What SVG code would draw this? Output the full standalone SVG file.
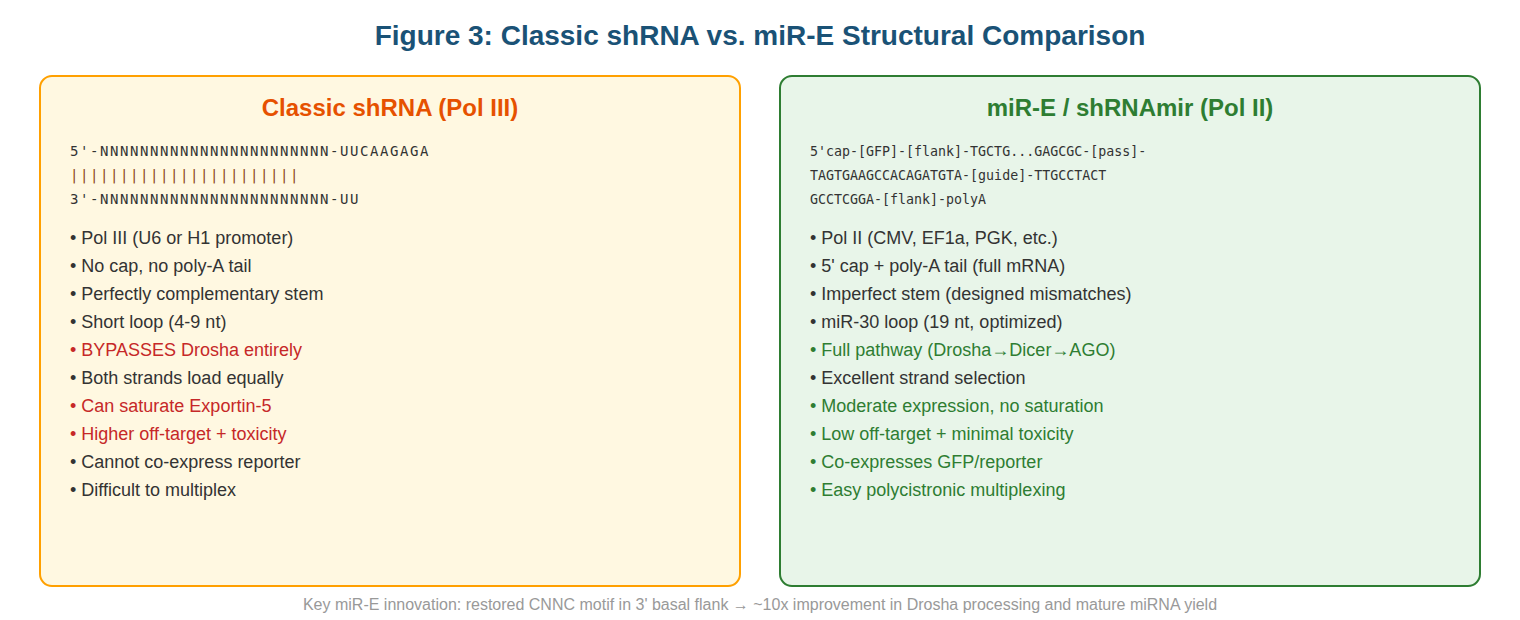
<svg xmlns="http://www.w3.org/2000/svg" width="1520" height="620" viewBox="0 0 1520 620">
<style>
.title{font-family:"Liberation Sans",Arial,sans-serif;font-size:28px;font-weight:bold;fill:#1a5276;text-anchor:middle}
.ptitle{font-family:"Liberation Sans",Arial,sans-serif;font-size:24px;font-weight:bold;text-anchor:middle}
.seqL{font-family:"DejaVu Sans Mono",monospace;font-size:14px;letter-spacing:1.57px;fill:#333}
.seqR{font-family:"DejaVu Sans Mono",monospace;font-size:13.3px;fill:#333}
.bars{fill:#8b4513}
.b{font-family:"Liberation Sans",Arial,sans-serif;font-size:18px;fill:#333}
.bad{fill:#c62828}
.good{fill:#2e7d32}
.foot{font-family:"Liberation Sans",Arial,sans-serif;font-size:16px;fill:#999;text-anchor:middle}
</style>
<rect width="1520" height="620" fill="#ffffff"/>
<text class="title" x="760" y="45">Figure 3: Classic shRNA vs. miR-E Structural Comparison</text>
<g id="classic">
<rect x="40" y="76" width="700" height="510" rx="12" fill="#fff8e1" stroke="#ffa000" stroke-width="2"/>
<text class="ptitle" x="390" y="116" fill="#e65100">Classic shRNA (Pol III)</text>
<text class="seqL" x="70" y="156">5'-NNNNNNNNNNNNNNNNNNNNNNN-UUCAAGAGA</text>
<text class="seqL bars" x="70" y="180">|||||||||||||||||||||||</text>
<text class="seqL" x="70" y="204">3'-NNNNNNNNNNNNNNNNNNNNNNN-UU</text>
<text class="b" x="70" y="244">• Pol III (U6 or H1 promoter)</text>
<text class="b" x="70" y="272">• No cap, no poly-A tail</text>
<text class="b" x="70" y="300">• Perfectly complementary stem</text>
<text class="b" x="70" y="328">• Short loop (4-9 nt)</text>
<text class="b bad" x="70" y="356">• BYPASSES Drosha entirely</text>
<text class="b" x="70" y="384">• Both strands load equally</text>
<text class="b bad" x="70" y="412">• Can saturate Exportin-5</text>
<text class="b bad" x="70" y="440">• Higher off-target + toxicity</text>
<text class="b" x="70" y="468">• Cannot co-express reporter</text>
<text class="b" x="70" y="496">• Difficult to multiplex</text>
</g>
<g id="mire">
<rect x="780" y="76" width="700" height="510" rx="12" fill="#e8f5e9" stroke="#2e7d32" stroke-width="2"/>
<text class="ptitle" x="1130" y="116" fill="#2e7d32">miR-E / shRNAmir (Pol II)</text>
<text class="seqR" x="810" y="156">5'cap-[GFP]-[flank]-TGCTG...GAGCGC-[pass]-</text>
<text class="seqR" x="810" y="180">TAGTGAAGCCACAGATGTA-[guide]-TTGCCTACT</text>
<text class="seqR" x="810" y="204">GCCTCGGA-[flank]-polyA</text>
<text class="b" x="810" y="244">• Pol II (CMV, EF1a, PGK, etc.)</text>
<text class="b" x="810" y="272">• 5' cap + poly-A tail (full mRNA)</text>
<text class="b" x="810" y="300">• Imperfect stem (designed mismatches)</text>
<text class="b" x="810" y="328">• miR-30 loop (19 nt, optimized)</text>
<text class="b good" x="810" y="356">• Full pathway (Drosha→Dicer→AGO)</text>
<text class="b" x="810" y="384">• Excellent strand selection</text>
<text class="b good" x="810" y="412">• Moderate expression, no saturation</text>
<text class="b good" x="810" y="440">• Low off-target + minimal toxicity</text>
<text class="b good" x="810" y="468">• Co-expresses GFP/reporter</text>
<text class="b good" x="810" y="496">• Easy polycistronic multiplexing</text>
</g>
<g id="connectors"/>
<text class="foot" x="760" y="610">Key miR-E innovation: restored CNNC motif in 3' basal flank → ~10x improvement in Drosha processing and mature miRNA yield</text>
</svg>
